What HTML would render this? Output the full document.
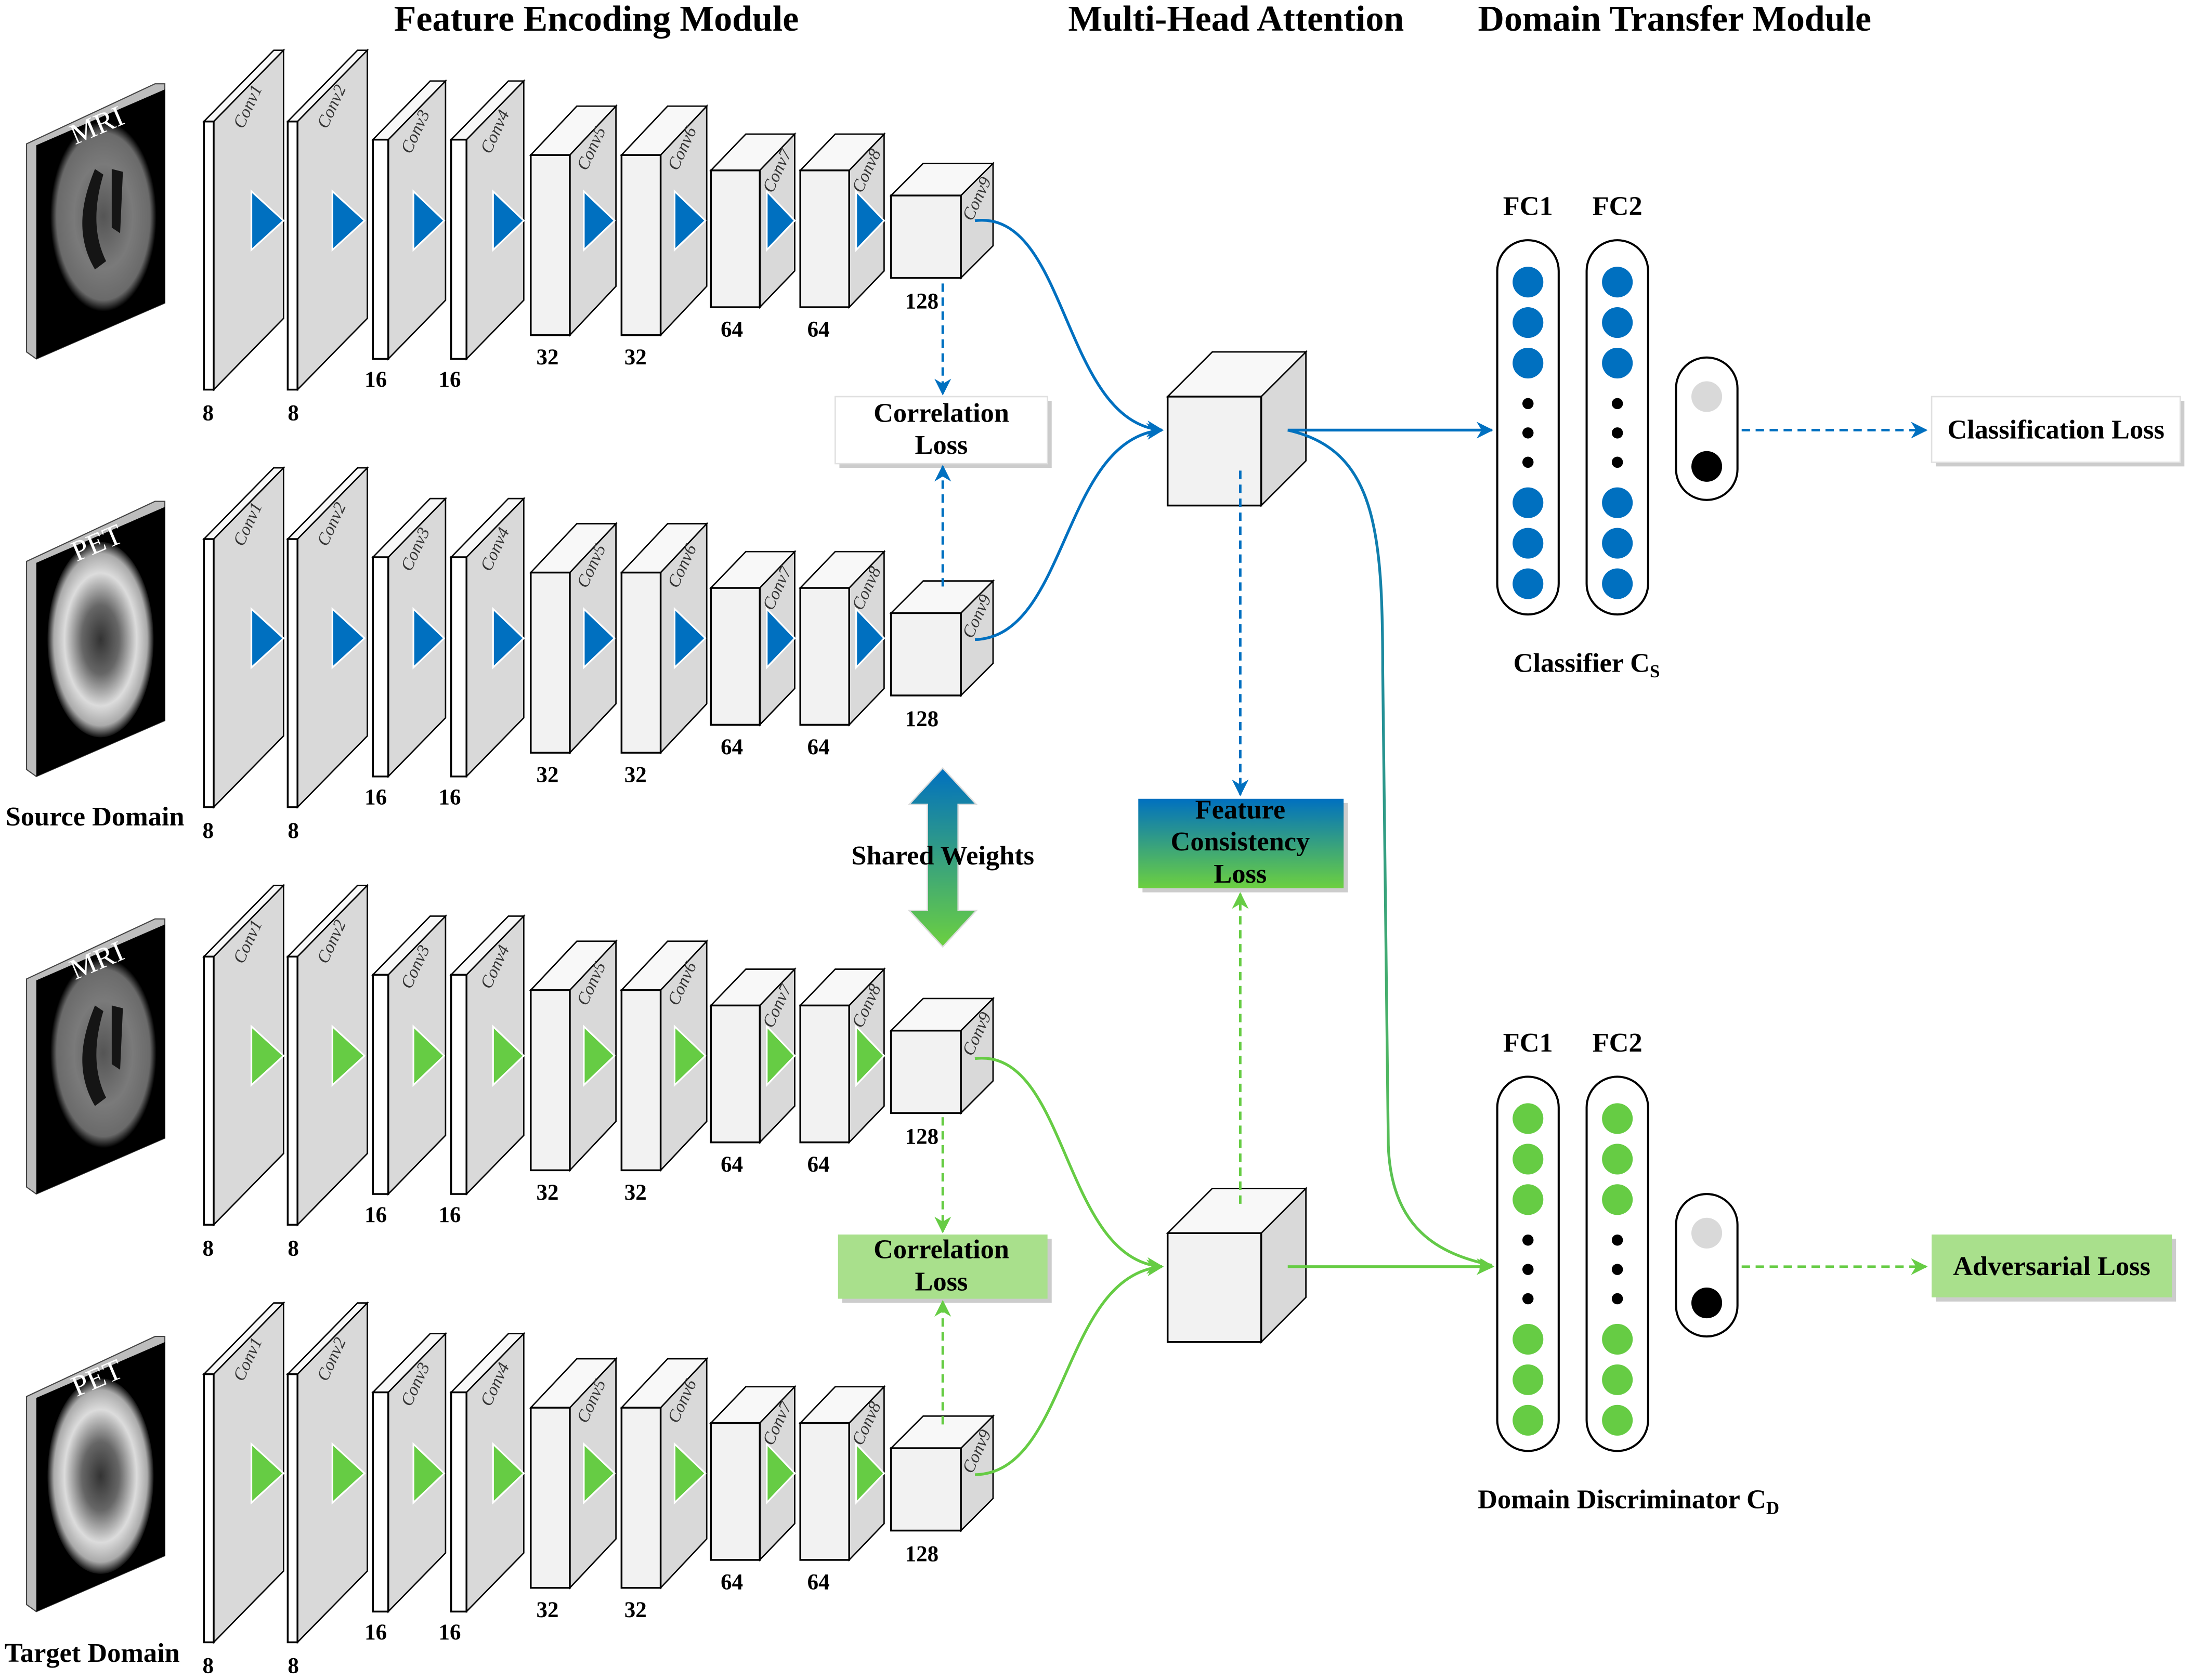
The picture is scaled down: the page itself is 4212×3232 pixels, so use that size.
<!DOCTYPE html>
<html><head><meta charset="utf-8"><style>
html,body{margin:0;padding:0;background:#fff}
svg{display:block}
text{font-family:"Liberation Serif",serif}
.ttl{font-size:26px;font-weight:bold}
.n{font-size:16px;font-weight:bold;text-anchor:middle}
.cv{font-size:12.5px;font-style:italic;fill:#333;text-anchor:middle}
.lb{font-size:19.5px;font-weight:bold;text-anchor:middle}
.fr{fill:#fff;stroke:#000;stroke-width:1.3}
.fr2{fill:#f2f2f2;stroke:#000;stroke-width:1.3}
.sd{fill:#d9d9d9;stroke:#000;stroke-width:1}
.tp{fill:#f8f8f8;stroke:#000;stroke-width:1}
.tri{stroke:#fff;stroke-width:1.2}
</style></head><body>
<svg width="4212" height="3232" viewBox="0 0 1568 1203" preserveAspectRatio="none" xmlns="http://www.w3.org/2000/svg">
<defs>
<marker id="ab" viewBox="0 0 10 10" refX="9" refY="5" markerWidth="12" markerHeight="12" markerUnits="userSpaceOnUse" orient="auto"><path d="M0,0 L10,5 L0,10 L3,5 z" fill="#0070c0"/></marker>
<marker id="ag" viewBox="0 0 10 10" refX="9" refY="5" markerWidth="12" markerHeight="12" markerUnits="userSpaceOnUse" orient="auto"><path d="M0,0 L10,5 L0,10 L3,5 z" fill="#66cc44"/></marker>
<linearGradient id="gbg" x1="0" y1="0" x2="0" y2="1"><stop offset="0" stop-color="#0070c0"/><stop offset="1" stop-color="#6cd040"/></linearGradient>
<linearGradient id="gline" gradientUnits="userSpaceOnUse" x1="0" y1="300" x2="0" y2="910"><stop offset="0" stop-color="#0070c0"/><stop offset="1" stop-color="#66cc44"/></linearGradient>
<radialGradient id="mri" cx="0.5" cy="0.5" r="0.5"><stop offset="0" stop-color="#555"/><stop offset="0.55" stop-color="#7a7a7a"/><stop offset="0.88" stop-color="#6a6a6a"/><stop offset="1" stop-color="#000"/></radialGradient>
<radialGradient id="pet" cx="0.5" cy="0.5" r="0.5"><stop offset="0" stop-color="#333"/><stop offset="0.35" stop-color="#666"/><stop offset="0.68" stop-color="#dcdcdc"/><stop offset="0.88" stop-color="#aaa"/><stop offset="1" stop-color="#111"/></radialGradient>

<g id="row">
 <polygon class="sd" points="153,87 203,36 203,228 153,279"/><polygon class="tp" points="146,87 196,36 203,36 153,87"/><rect class="fr" x="146" y="87" width="7" height="192"/>
 <polygon class="sd" points="213,87 263,36 263,228 213,279"/><polygon class="tp" points="206,87 256,36 263,36 213,87"/><rect class="fr" x="206" y="87" width="7" height="192"/>
 <polygon class="sd" points="278,100 319,58 319,215 278,257"/><polygon class="tp" points="267,100 308,58 319,58 278,100"/><rect class="fr" x="267" y="100" width="11" height="157"/>
 <polygon class="sd" points="334,100 375,58 375,215 334,257"/><polygon class="tp" points="323,100 364,58 375,58 334,100"/><rect class="fr" x="323" y="100" width="11" height="157"/>
 <polygon class="sd" points="408,111 441,76 441,205 408,240"/><polygon class="tp" points="380,111 413,76 441,76 408,111"/><rect class="fr2" x="380" y="111" width="28" height="129"/>
 <polygon class="sd" points="473,111 506,76 506,205 473,240"/><polygon class="tp" points="445,111 478,76 506,76 473,111"/><rect class="fr2" x="445" y="111" width="28" height="129"/>
 <polygon class="sd" points="544,122 569,96 569,194 544,220"/><polygon class="tp" points="509,122 534,96 569,96 544,122"/><rect class="fr2" x="509" y="122" width="35" height="98"/>
 <polygon class="sd" points="608,122 633,96 633,194 608,220"/><polygon class="tp" points="573,122 598,96 633,96 608,122"/><rect class="fr2" x="573" y="122" width="35" height="98"/>
 <polygon class="sd" points="688,140 711,117 711,176 688,199"/><polygon class="tp" points="638,140 661,117 711,117 688,140"/><rect class="fr2" x="638" y="140" width="50" height="59"/>
 <g fill="currentColor" class="tri">
  <polygon points="180,137 203,158 180,179"/><polygon points="238,137 261,158 238,179"/>
  <polygon points="296,137 318,158 296,179"/><polygon points="353,137 375,158 353,179"/>
  <polygon points="418,137 440,158 418,179"/><polygon points="483,137 505,158 483,179"/>
  <polygon points="549,137 569,158 549,179"/><polygon points="613,137 633,158 613,179"/>
 </g>
 <text class="cv" transform="translate(181,78) rotate(-65)">Conv1</text>
 <text class="cv" transform="translate(241,78) rotate(-65)">Conv2</text>
 <text class="cv" transform="translate(301,96) rotate(-65)">Conv3</text>
 <text class="cv" transform="translate(358,96) rotate(-65)">Conv4</text>
 <text class="cv" transform="translate(427,108) rotate(-65)">Conv5</text>
 <text class="cv" transform="translate(492,108) rotate(-65)">Conv6</text>
 <text class="cv" transform="translate(560,124) rotate(-65)">Conv7</text>
 <text class="cv" transform="translate(624,124) rotate(-65)">Conv8</text>
 <text class="cv" transform="translate(703,144) rotate(-65)">Conv9</text>
 <text class="n" x="149" y="301">8</text><text class="n" x="210" y="301">8</text>
 <text class="n" x="269" y="277">16</text><text class="n" x="322" y="277">16</text>
 <text class="n" x="392" y="261">32</text><text class="n" x="455" y="261">32</text>
 <text class="n" x="524" y="241">64</text><text class="n" x="586" y="241">64</text>
 <text class="n" x="660" y="221">128</text>
</g>
<g id="slab">
 <polygon points="19,103 111,60 118,60 118,217 26,257 19,252" fill="#bdbdbd" stroke="#444" stroke-width="0.8"/>
 <polygon points="26,104 118,64 118,217 26,257" fill="#000"/>
</g>
</defs>

<text class="ttl" x="427" y="22" text-anchor="middle">Feature Encoding Module</text>
<text class="ttl" x="885" y="22" text-anchor="middle">Multi-Head Attention</text>
<text class="ttl" x="1199" y="22" text-anchor="middle">Domain Transfer Module</text>

<use href="#row" style="color:#0070c0"/>
<use href="#row" y="299" style="color:#0070c0"/>
<use href="#row" y="598" style="color:#66cc44"/>
<use href="#row" y="897" style="color:#66cc44"/>

<use href="#slab"/>
<g transform="translate(74,155)"><ellipse rx="38" ry="68" fill="url(#mri)"/><path d="M-6,-34 C-16,-10 -20,14 -6,38 L2,32 C-8,12 -6,-10 0,-30 Z M6,-34 L14,-32 L12,12 L6,8 Z" fill="#151515"/></g>
<text x="72" y="96" fill="#fff" font-size="21" text-anchor="middle" transform="rotate(-23 72 96)">MRI</text>
<use href="#slab" y="299"/>
<g transform="translate(72,458)"><ellipse rx="38" ry="70" fill="url(#pet)"/></g>
<text x="72" y="395" fill="#fff" font-size="21" text-anchor="middle" transform="rotate(-23 72 395)">PET</text>
<use href="#slab" y="598"/>
<g transform="translate(74,754)"><ellipse rx="38" ry="68" fill="url(#mri)"/><path d="M-6,-34 C-16,-10 -20,14 -6,38 L2,32 C-8,12 -6,-10 0,-30 Z M6,-34 L14,-32 L12,12 L6,8 Z" fill="#151515"/></g>
<text x="72" y="694" fill="#fff" font-size="21" text-anchor="middle" transform="rotate(-23 72 694)">MRI</text>
<use href="#slab" y="897"/>
<g transform="translate(72,1057)"><ellipse rx="38" ry="70" fill="url(#pet)"/></g>
<text x="72" y="993" fill="#fff" font-size="21" text-anchor="middle" transform="rotate(-23 72 993)">PET</text>

<text class="lb" x="68" y="591">Source Domain</text>
<text class="lb" x="66" y="1190">Target Domain</text>

<rect x="601" y="287" width="152" height="48" fill="#ccc"/>
<rect x="598" y="284" width="152" height="48" fill="#fff" stroke="#e0e0e0"/>
<text class="lb" x="674" y="302">Correlation</text><text class="lb" x="674" y="325">Loss</text>
<line x1="675" y1="203" x2="675" y2="282" stroke="#0070c0" stroke-width="1.8" stroke-dasharray="6,4" marker-end="url(#ab)"/>
<line x1="675" y1="420" x2="675" y2="334" stroke="#0070c0" stroke-width="1.8" stroke-dasharray="6,4" marker-end="url(#ab)"/>

<rect x="603" y="887" width="150" height="46" fill="#ccc"/>
<rect x="600" y="884" width="150" height="46" fill="#a9e08c"/>
<text class="lb" x="674" y="901">Correlation</text><text class="lb" x="674" y="924">Loss</text>
<line x1="675" y1="800" x2="675" y2="882" stroke="#66cc44" stroke-width="1.8" stroke-dasharray="6,4" marker-end="url(#ag)"/>
<line x1="675" y1="1020" x2="675" y2="932" stroke="#66cc44" stroke-width="1.8" stroke-dasharray="6,4" marker-end="url(#ag)"/>

<polygon points="675,550 699,576 686,576 686,652 699,652 675,678 651,652 664,652 664,576 651,576" fill="url(#gbg)" stroke="#ddd" stroke-width="1"/>
<text class="lb" x="675" y="619">Shared Weights</text>

<path d="M698,158 C765,150 760,302 832,308" fill="none" stroke="#0070c0" stroke-width="2" marker-end="url(#ab)"/>
<path d="M698,458 C765,456 760,314 832,308" fill="none" stroke="#0070c0" stroke-width="2" marker-end="url(#ab)"/>
<path d="M698,758 C765,750 760,902 832,907" fill="none" stroke="#66cc44" stroke-width="2" marker-end="url(#ag)"/>
<path d="M698,1056 C765,1055 760,913 832,907" fill="none" stroke="#66cc44" stroke-width="2" marker-end="url(#ag)"/>

<polygon class="sd" points="903,284 935,252 935,330 903,362"/><polygon class="tp" points="836,284 868,252 935,252 903,284"/><rect class="fr2" x="836" y="284" width="67" height="78"/>
<polygon class="sd" points="903,883 935,851 935,929 903,961"/><polygon class="tp" points="836,883 868,851 935,851 903,883"/><rect class="fr2" x="836" y="883" width="67" height="78"/>

<line x1="922" y1="308" x2="1068" y2="308" stroke="#0070c0" stroke-width="2" marker-end="url(#ab)"/>
<line x1="922" y1="907" x2="1068" y2="907" stroke="#66cc44" stroke-width="2" marker-end="url(#ag)"/>
<path d="M922,308 C985,322 990,380 990,480 L994,820 C996,880 1030,898 1068,906" fill="none" stroke="url(#gline)" stroke-width="2"/>
<path d="M1060,901 L1070,907 L1059,912 Z" fill="#66cc44"/>

<line x1="888" y1="337" x2="888" y2="569" stroke="#0070c0" stroke-width="1.8" stroke-dasharray="6,4" marker-end="url(#ab)"/>
<line x1="888" y1="862" x2="888" y2="640" stroke="#66cc44" stroke-width="1.8" stroke-dasharray="6,4" marker-end="url(#ag)"/>
<rect x="818" y="575" width="147" height="64" fill="#ccc"/>
<rect x="815" y="572" width="147" height="64" fill="url(#gbg)"/>
<text class="lb" x="888" y="586">Feature</text><text class="lb" x="888" y="609">Consistency</text><text class="lb" x="888" y="632">Loss</text>

<text class="lb" x="1094" y="154">FC1</text><text class="lb" x="1158" y="154">FC2</text>
<rect x="1072" y="172" width="44" height="268" rx="22" fill="#fff" stroke="#000" stroke-width="1.5"/>
<rect x="1136" y="172" width="44" height="268" rx="22" fill="#fff" stroke="#000" stroke-width="1.5"/>
<g fill="#0070c0">
<circle cx="1094" cy="202" r="11"/><circle cx="1094" cy="231" r="11"/><circle cx="1094" cy="260" r="11"/>
<circle cx="1094" cy="360" r="11"/><circle cx="1094" cy="389" r="11"/><circle cx="1094" cy="418" r="11"/>
<circle cx="1158" cy="202" r="11"/><circle cx="1158" cy="231" r="11"/><circle cx="1158" cy="260" r="11"/>
<circle cx="1158" cy="360" r="11"/><circle cx="1158" cy="389" r="11"/><circle cx="1158" cy="418" r="11"/>
</g>
<g fill="#000"><circle cx="1094" cy="289" r="4"/><circle cx="1094" cy="310" r="4"/><circle cx="1094" cy="331" r="4"/><circle cx="1158" cy="289" r="4"/><circle cx="1158" cy="310" r="4"/><circle cx="1158" cy="331" r="4"/></g>
<rect x="1200" y="256" width="44" height="102" rx="22" fill="#fff" stroke="#000" stroke-width="1.5"/>
<circle cx="1222" cy="284" r="11" fill="#d9d9d9"/><circle cx="1222" cy="334" r="11" fill="#000"/>
<line x1="1247" y1="308" x2="1379" y2="308" stroke="#0070c0" stroke-width="1.8" stroke-dasharray="6,4" marker-end="url(#ab)"/>
<rect x="1386" y="287" width="178" height="47" fill="#ccc"/>
<rect x="1383" y="284" width="178" height="47" fill="#fff" stroke="#e0e0e0"/>
<text class="lb" x="1472" y="314">Classification  Loss</text>
<text class="lb" x="1136" y="481">Classifier C<tspan font-size="13" dy="4">S</tspan></text>

<text class="lb" x="1094" y="753">FC1</text><text class="lb" x="1158" y="753">FC2</text>
<rect x="1072" y="771" width="44" height="268" rx="22" fill="#fff" stroke="#000" stroke-width="1.5"/>
<rect x="1136" y="771" width="44" height="268" rx="22" fill="#fff" stroke="#000" stroke-width="1.5"/>
<g fill="#66cc44">
<circle cx="1094" cy="801" r="11"/><circle cx="1094" cy="830" r="11"/><circle cx="1094" cy="859" r="11"/>
<circle cx="1094" cy="959" r="11"/><circle cx="1094" cy="988" r="11"/><circle cx="1094" cy="1017" r="11"/>
<circle cx="1158" cy="801" r="11"/><circle cx="1158" cy="830" r="11"/><circle cx="1158" cy="859" r="11"/>
<circle cx="1158" cy="959" r="11"/><circle cx="1158" cy="988" r="11"/><circle cx="1158" cy="1017" r="11"/>
</g>
<g fill="#000"><circle cx="1094" cy="888" r="4"/><circle cx="1094" cy="909" r="4"/><circle cx="1094" cy="930" r="4"/><circle cx="1158" cy="888" r="4"/><circle cx="1158" cy="909" r="4"/><circle cx="1158" cy="930" r="4"/></g>
<rect x="1200" y="855" width="44" height="102" rx="22" fill="#fff" stroke="#000" stroke-width="1.5"/>
<circle cx="1222" cy="883" r="11" fill="#d9d9d9"/><circle cx="1222" cy="933" r="11" fill="#000"/>
<line x1="1247" y1="907" x2="1379" y2="907" stroke="#66cc44" stroke-width="1.8" stroke-dasharray="6,4" marker-end="url(#ag)"/>
<rect x="1386" y="887" width="172" height="45" fill="#ccc"/>
<rect x="1383" y="884" width="172" height="45" fill="#a9e08c"/>
<text class="lb" x="1469" y="913">Adversarial  Loss</text>
<text class="lb" x="1166" y="1080">Domain Discriminator C<tspan font-size="13" dy="4">D</tspan></text>
</svg>
</body></html>
